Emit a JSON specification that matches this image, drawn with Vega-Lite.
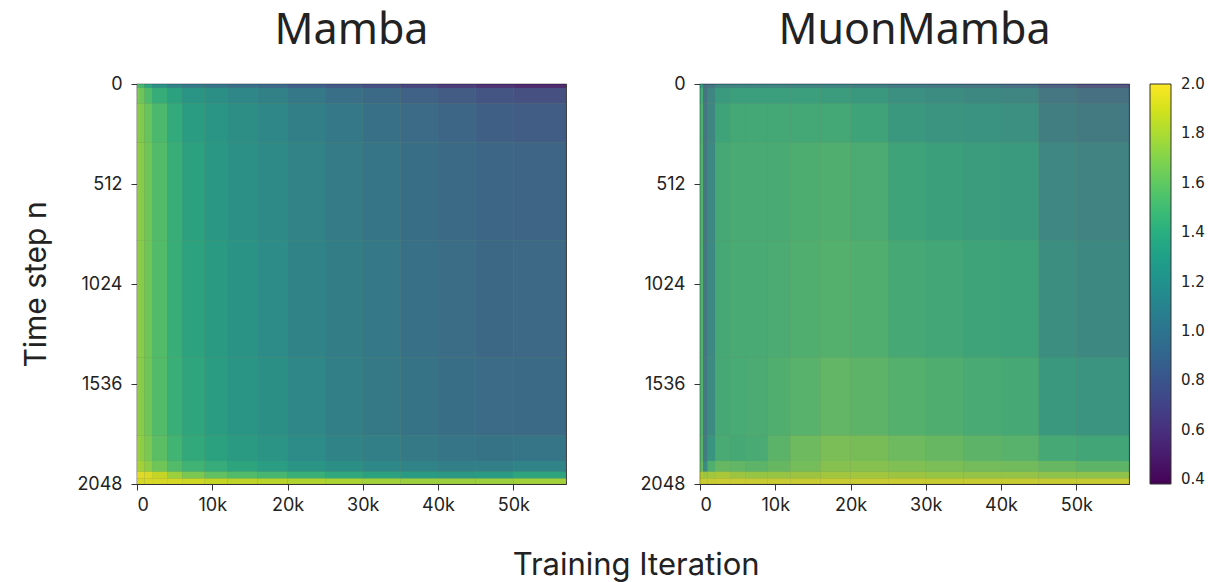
{"$schema":"https://vega.github.io/schema/vega-lite/v6.json","background":"white","padding":{"left":21,"top":9,"right":5,"bottom":2},
"title":{"text":"Training Iteration","orient":"bottom","anchor":"middle","fontSize":31,"font":"Inter","fontWeight":"normal","color":"#222","offset":36,"dx":23},
"config":{"axis":{"grid":false,"domain":false,"tickColor":"#333","tickSize":6,"labelColor":"#222","labelFontSize":18,"labelFont":"Inter","titleFont":"Inter","titleFontWeight":"normal","titleFontSize":30,"titleColor":"#222"},"title":{"font":"Noto Sans","fontWeight":"normal","fontSize":43,"color":"#222","offset":22},"concat":{"spacing":72}},
"datasets":{"mamba":[
{"x":0,"x2":0.4,"y":0,"y2":20,"v":1.55},{"x":0.4,"x2":1,"y":0,"y2":20,"v":1.5},{"x":1,"x2":2,"y":0,"y2":20,"v":1.35},{"x":2,"x2":4,"y":0,"y2":20,"v":1.2},{"x":4,"x2":6,"y":0,"y2":20,"v":1.08},{"x":6,"x2":9,"y":0,"y2":20,"v":1.02},{"x":9,"x2":12,"y":0,"y2":20,"v":0.98},{"x":12,"x2":16,"y":0,"y2":20,"v":0.94},{"x":16,"x2":20,"y":0,"y2":20,"v":0.9},{"x":20,"x2":25,"y":0,"y2":20,"v":0.84},{"x":25,"x2":30,"y":0,"y2":20,"v":0.78},{"x":30,"x2":35,"y":0,"y2":20,"v":0.72},{"x":35,"x2":40,"y":0,"y2":20,"v":0.66},{"x":40,"x2":45,"y":0,"y2":20,"v":0.6},{"x":45,"x2":50,"y":0,"y2":20,"v":0.54},{"x":50,"x2":57,"y":0,"y2":20,"v":0.5},
{"x":0,"x2":0.4,"y":20,"y2":100,"v":1.68},{"x":0.4,"x2":1,"y":20,"y2":100,"v":1.64},{"x":1,"x2":2,"y":20,"y2":100,"v":1.54},{"x":2,"x2":4,"y":20,"y2":100,"v":1.42},{"x":4,"x2":6,"y":20,"y2":100,"v":1.33},{"x":6,"x2":9,"y":20,"y2":100,"v":1.24},{"x":9,"x2":12,"y":20,"y2":100,"v":1.18},{"x":12,"x2":16,"y":20,"y2":100,"v":1.12},{"x":16,"x2":20,"y":20,"y2":100,"v":1.07},{"x":20,"x2":25,"y":20,"y2":100,"v":1.0},{"x":25,"x2":30,"y":20,"y2":100,"v":0.94},{"x":30,"x2":35,"y":20,"y2":100,"v":0.89},{"x":35,"x2":40,"y":20,"y2":100,"v":0.84},{"x":40,"x2":45,"y":20,"y2":100,"v":0.79},{"x":45,"x2":50,"y":20,"y2":100,"v":0.74},{"x":50,"x2":57,"y":20,"y2":100,"v":0.72},
{"x":0,"x2":0.4,"y":100,"y2":300,"v":1.73},{"x":0.4,"x2":1,"y":100,"y2":300,"v":1.7},{"x":1,"x2":2,"y":100,"y2":300,"v":1.62},{"x":2,"x2":4,"y":100,"y2":300,"v":1.52},{"x":4,"x2":6,"y":100,"y2":300,"v":1.4},{"x":6,"x2":9,"y":100,"y2":300,"v":1.29},{"x":9,"x2":12,"y":100,"y2":300,"v":1.23},{"x":12,"x2":16,"y":100,"y2":300,"v":1.17},{"x":16,"x2":20,"y":100,"y2":300,"v":1.12},{"x":20,"x2":25,"y":100,"y2":300,"v":1.06},{"x":25,"x2":30,"y":100,"y2":300,"v":1.0},{"x":30,"x2":35,"y":100,"y2":300,"v":0.95},{"x":35,"x2":40,"y":100,"y2":300,"v":0.9},{"x":40,"x2":45,"y":100,"y2":300,"v":0.86},{"x":45,"x2":50,"y":100,"y2":300,"v":0.82},{"x":50,"x2":57,"y":100,"y2":300,"v":0.8},
{"x":0,"x2":0.4,"y":300,"y2":800,"v":1.75},{"x":0.4,"x2":1,"y":300,"y2":800,"v":1.72},{"x":1,"x2":2,"y":300,"y2":800,"v":1.65},{"x":2,"x2":4,"y":300,"y2":800,"v":1.55},{"x":4,"x2":6,"y":300,"y2":800,"v":1.43},{"x":6,"x2":9,"y":300,"y2":800,"v":1.33},{"x":9,"x2":12,"y":300,"y2":800,"v":1.25},{"x":12,"x2":16,"y":300,"y2":800,"v":1.19},{"x":16,"x2":20,"y":300,"y2":800,"v":1.14},{"x":20,"x2":25,"y":300,"y2":800,"v":1.08},{"x":25,"x2":30,"y":300,"y2":800,"v":1.02},{"x":30,"x2":35,"y":300,"y2":800,"v":0.98},{"x":35,"x2":40,"y":300,"y2":800,"v":0.93},{"x":40,"x2":45,"y":300,"y2":800,"v":0.89},{"x":45,"x2":50,"y":300,"y2":800,"v":0.86},{"x":50,"x2":57,"y":300,"y2":800,"v":0.85},
{"x":0,"x2":0.4,"y":800,"y2":1400,"v":1.75},{"x":0.4,"x2":1,"y":800,"y2":1400,"v":1.72},{"x":1,"x2":2,"y":800,"y2":1400,"v":1.65},{"x":2,"x2":4,"y":800,"y2":1400,"v":1.55},{"x":4,"x2":6,"y":800,"y2":1400,"v":1.43},{"x":6,"x2":9,"y":800,"y2":1400,"v":1.34},{"x":9,"x2":12,"y":800,"y2":1400,"v":1.27},{"x":12,"x2":16,"y":800,"y2":1400,"v":1.21},{"x":16,"x2":20,"y":800,"y2":1400,"v":1.16},{"x":20,"x2":25,"y":800,"y2":1400,"v":1.1},{"x":25,"x2":30,"y":800,"y2":1400,"v":1.04},{"x":30,"x2":35,"y":800,"y2":1400,"v":1.0},{"x":35,"x2":40,"y":800,"y2":1400,"v":0.95},{"x":40,"x2":45,"y":800,"y2":1400,"v":0.91},{"x":45,"x2":50,"y":800,"y2":1400,"v":0.88},{"x":50,"x2":57,"y":800,"y2":1400,"v":0.87},
{"x":0,"x2":0.4,"y":1400,"y2":1800,"v":1.75},{"x":0.4,"x2":1,"y":1400,"y2":1800,"v":1.72},{"x":1,"x2":2,"y":1400,"y2":1800,"v":1.65},{"x":2,"x2":4,"y":1400,"y2":1800,"v":1.55},{"x":4,"x2":6,"y":1400,"y2":1800,"v":1.44},{"x":6,"x2":9,"y":1400,"y2":1800,"v":1.36},{"x":9,"x2":12,"y":1400,"y2":1800,"v":1.29},{"x":12,"x2":16,"y":1400,"y2":1800,"v":1.23},{"x":16,"x2":20,"y":1400,"y2":1800,"v":1.18},{"x":20,"x2":25,"y":1400,"y2":1800,"v":1.12},{"x":25,"x2":30,"y":1400,"y2":1800,"v":1.06},{"x":30,"x2":35,"y":1400,"y2":1800,"v":1.01},{"x":35,"x2":40,"y":1400,"y2":1800,"v":0.97},{"x":40,"x2":45,"y":1400,"y2":1800,"v":0.93},{"x":45,"x2":50,"y":1400,"y2":1800,"v":0.9},{"x":50,"x2":57,"y":1400,"y2":1800,"v":0.89},
{"x":0,"x2":0.4,"y":1800,"y2":1930,"v":1.78},{"x":0.4,"x2":1,"y":1800,"y2":1930,"v":1.74},{"x":1,"x2":2,"y":1800,"y2":1930,"v":1.68},{"x":2,"x2":4,"y":1800,"y2":1930,"v":1.58},{"x":4,"x2":6,"y":1800,"y2":1930,"v":1.48},{"x":6,"x2":9,"y":1800,"y2":1930,"v":1.39},{"x":9,"x2":12,"y":1800,"y2":1930,"v":1.33},{"x":12,"x2":16,"y":1800,"y2":1930,"v":1.27},{"x":16,"x2":20,"y":1800,"y2":1930,"v":1.22},{"x":20,"x2":25,"y":1800,"y2":1930,"v":1.16},{"x":25,"x2":30,"y":1800,"y2":1930,"v":1.1},{"x":30,"x2":35,"y":1800,"y2":1930,"v":1.05},{"x":35,"x2":40,"y":1800,"y2":1930,"v":1.01},{"x":40,"x2":45,"y":1800,"y2":1930,"v":0.98},{"x":45,"x2":50,"y":1800,"y2":1930,"v":0.96},{"x":50,"x2":57,"y":1800,"y2":1930,"v":0.98},
{"x":0,"x2":0.4,"y":1930,"y2":1985,"v":1.82},{"x":0.4,"x2":1,"y":1930,"y2":1985,"v":1.8},{"x":1,"x2":2,"y":1930,"y2":1985,"v":1.74},{"x":2,"x2":4,"y":1930,"y2":1985,"v":1.65},{"x":4,"x2":6,"y":1930,"y2":1985,"v":1.55},{"x":6,"x2":9,"y":1930,"y2":1985,"v":1.47},{"x":9,"x2":12,"y":1930,"y2":1985,"v":1.41},{"x":12,"x2":16,"y":1930,"y2":1985,"v":1.35},{"x":16,"x2":20,"y":1930,"y2":1985,"v":1.3},{"x":20,"x2":25,"y":1930,"y2":1985,"v":1.24},{"x":25,"x2":30,"y":1930,"y2":1985,"v":1.18},{"x":30,"x2":35,"y":1930,"y2":1985,"v":1.13},{"x":35,"x2":40,"y":1930,"y2":1985,"v":1.09},{"x":40,"x2":45,"y":1930,"y2":1985,"v":1.05},{"x":45,"x2":50,"y":1930,"y2":1985,"v":1.05},{"x":50,"x2":57,"y":1930,"y2":1985,"v":1.1},
{"x":0,"x2":0.4,"y":1985,"y2":2020,"v":1.98},{"x":0.4,"x2":1,"y":1985,"y2":2020,"v":1.98},{"x":1,"x2":2,"y":1985,"y2":2020,"v":1.96},{"x":2,"x2":4,"y":1985,"y2":2020,"v":1.9},{"x":4,"x2":6,"y":1985,"y2":2020,"v":1.78},{"x":6,"x2":9,"y":1985,"y2":2020,"v":1.68},{"x":9,"x2":12,"y":1985,"y2":2020,"v":1.6},{"x":12,"x2":16,"y":1985,"y2":2020,"v":1.55},{"x":16,"x2":20,"y":1985,"y2":2020,"v":1.5},{"x":20,"x2":25,"y":1985,"y2":2020,"v":1.44},{"x":25,"x2":30,"y":1985,"y2":2020,"v":1.38},{"x":30,"x2":35,"y":1985,"y2":2020,"v":1.33},{"x":35,"x2":40,"y":1985,"y2":2020,"v":1.28},{"x":40,"x2":45,"y":1985,"y2":2020,"v":1.26},{"x":45,"x2":50,"y":1985,"y2":2020,"v":1.28},{"x":50,"x2":57,"y":1985,"y2":2020,"v":1.35},
{"x":0,"x2":0.4,"y":2020,"y2":2048,"v":1.95},{"x":0.4,"x2":1,"y":2020,"y2":2048,"v":1.95},{"x":1,"x2":2,"y":2020,"y2":2048,"v":1.95},{"x":2,"x2":4,"y":2020,"y2":2048,"v":1.95},{"x":4,"x2":6,"y":2020,"y2":2048,"v":1.94},{"x":6,"x2":9,"y":2020,"y2":2048,"v":1.92},{"x":9,"x2":12,"y":2020,"y2":2048,"v":1.9},{"x":12,"x2":16,"y":2020,"y2":2048,"v":1.88},{"x":16,"x2":20,"y":2020,"y2":2048,"v":1.86},{"x":20,"x2":25,"y":2020,"y2":2048,"v":1.84},{"x":25,"x2":30,"y":2020,"y2":2048,"v":1.82},{"x":30,"x2":35,"y":2020,"y2":2048,"v":1.8},{"x":35,"x2":40,"y":2020,"y2":2048,"v":1.78},{"x":40,"x2":45,"y":2020,"y2":2048,"v":1.78},{"x":45,"x2":50,"y":2020,"y2":2048,"v":1.78},{"x":50,"x2":57,"y":2020,"y2":2048,"v":1.8}
],"muon":[
{"x":0,"x2":0.4,"y":0,"y2":20,"v":1.3},{"x":0.4,"x2":1,"y":0,"y2":20,"v":0.88},{"x":1,"x2":2,"y":0,"y2":20,"v":0.96},{"x":2,"x2":4,"y":0,"y2":20,"v":1.08},{"x":4,"x2":6,"y":0,"y2":20,"v":1.1},{"x":6,"x2":9,"y":0,"y2":20,"v":1.1},{"x":9,"x2":12,"y":0,"y2":20,"v":1.1},{"x":12,"x2":16,"y":0,"y2":20,"v":1.08},{"x":16,"x2":20,"y":0,"y2":20,"v":1.08},{"x":20,"x2":25,"y":0,"y2":20,"v":1.05},{"x":25,"x2":30,"y":0,"y2":20,"v":1.0},{"x":30,"x2":35,"y":0,"y2":20,"v":0.98},{"x":35,"x2":40,"y":0,"y2":20,"v":0.95},{"x":40,"x2":45,"y":0,"y2":20,"v":0.9},{"x":45,"x2":50,"y":0,"y2":20,"v":0.78},{"x":50,"x2":57,"y":0,"y2":20,"v":0.7},
{"x":0,"x2":0.4,"y":20,"y2":100,"v":1.45},{"x":0.4,"x2":1,"y":20,"y2":100,"v":0.93},{"x":1,"x2":2,"y":20,"y2":100,"v":1.08},{"x":2,"x2":4,"y":20,"y2":100,"v":1.3},{"x":4,"x2":6,"y":20,"y2":100,"v":1.33},{"x":6,"x2":9,"y":20,"y2":100,"v":1.33},{"x":9,"x2":12,"y":20,"y2":100,"v":1.33},{"x":12,"x2":16,"y":20,"y2":100,"v":1.33},{"x":16,"x2":20,"y":20,"y2":100,"v":1.32},{"x":20,"x2":25,"y":20,"y2":100,"v":1.28},{"x":25,"x2":30,"y":20,"y2":100,"v":1.2},{"x":30,"x2":35,"y":20,"y2":100,"v":1.16},{"x":35,"x2":40,"y":20,"y2":100,"v":1.13},{"x":40,"x2":45,"y":20,"y2":100,"v":1.1},{"x":45,"x2":50,"y":20,"y2":100,"v":0.96},{"x":50,"x2":57,"y":20,"y2":100,"v":0.9},
{"x":0,"x2":0.4,"y":100,"y2":300,"v":1.5},{"x":0.4,"x2":1,"y":100,"y2":300,"v":0.95},{"x":1,"x2":2,"y":100,"y2":300,"v":1.1},{"x":2,"x2":4,"y":100,"y2":300,"v":1.38},{"x":4,"x2":6,"y":100,"y2":300,"v":1.42},{"x":6,"x2":9,"y":100,"y2":300,"v":1.42},{"x":9,"x2":12,"y":100,"y2":300,"v":1.42},{"x":12,"x2":16,"y":100,"y2":300,"v":1.42},{"x":16,"x2":20,"y":100,"y2":300,"v":1.42},{"x":20,"x2":25,"y":100,"y2":300,"v":1.38},{"x":25,"x2":30,"y":100,"y2":300,"v":1.28},{"x":30,"x2":35,"y":100,"y2":300,"v":1.24},{"x":35,"x2":40,"y":100,"y2":300,"v":1.22},{"x":40,"x2":45,"y":100,"y2":300,"v":1.2},{"x":45,"x2":50,"y":100,"y2":300,"v":1.03},{"x":50,"x2":57,"y":100,"y2":300,"v":0.99},
{"x":0,"x2":0.4,"y":300,"y2":800,"v":1.52},{"x":0.4,"x2":1,"y":300,"y2":800,"v":0.96},{"x":1,"x2":2,"y":300,"y2":800,"v":1.12},{"x":2,"x2":4,"y":300,"y2":800,"v":1.43},{"x":4,"x2":6,"y":300,"y2":800,"v":1.46},{"x":6,"x2":9,"y":300,"y2":800,"v":1.46},{"x":9,"x2":12,"y":300,"y2":800,"v":1.46},{"x":12,"x2":16,"y":300,"y2":800,"v":1.48},{"x":16,"x2":20,"y":300,"y2":800,"v":1.5},{"x":20,"x2":25,"y":300,"y2":800,"v":1.47},{"x":25,"x2":30,"y":300,"y2":800,"v":1.38},{"x":30,"x2":35,"y":300,"y2":800,"v":1.34},{"x":35,"x2":40,"y":300,"y2":800,"v":1.32},{"x":40,"x2":45,"y":300,"y2":800,"v":1.3},{"x":45,"x2":50,"y":300,"y2":800,"v":1.11},{"x":50,"x2":57,"y":300,"y2":800,"v":1.07},
{"x":0,"x2":0.4,"y":800,"y2":1400,"v":1.52},{"x":0.4,"x2":1,"y":800,"y2":1400,"v":0.96},{"x":1,"x2":2,"y":800,"y2":1400,"v":1.12},{"x":2,"x2":4,"y":800,"y2":1400,"v":1.44},{"x":4,"x2":6,"y":800,"y2":1400,"v":1.46},{"x":6,"x2":9,"y":800,"y2":1400,"v":1.46},{"x":9,"x2":12,"y":800,"y2":1400,"v":1.47},{"x":12,"x2":16,"y":800,"y2":1400,"v":1.5},{"x":16,"x2":20,"y":800,"y2":1400,"v":1.52},{"x":20,"x2":25,"y":800,"y2":1400,"v":1.5},{"x":25,"x2":30,"y":800,"y2":1400,"v":1.44},{"x":30,"x2":35,"y":800,"y2":1400,"v":1.41},{"x":35,"x2":40,"y":800,"y2":1400,"v":1.38},{"x":40,"x2":45,"y":800,"y2":1400,"v":1.36},{"x":45,"x2":50,"y":800,"y2":1400,"v":1.17},{"x":50,"x2":57,"y":800,"y2":1400,"v":1.13},
{"x":0,"x2":0.4,"y":1400,"y2":1800,"v":1.52},{"x":0.4,"x2":1,"y":1400,"y2":1800,"v":0.97},{"x":1,"x2":2,"y":1400,"y2":1800,"v":1.14},{"x":2,"x2":4,"y":1400,"y2":1800,"v":1.43},{"x":4,"x2":6,"y":1400,"y2":1800,"v":1.45},{"x":6,"x2":9,"y":1400,"y2":1800,"v":1.47},{"x":9,"x2":12,"y":1400,"y2":1800,"v":1.5},{"x":12,"x2":16,"y":1400,"y2":1800,"v":1.54},{"x":16,"x2":20,"y":1400,"y2":1800,"v":1.58},{"x":20,"x2":25,"y":1400,"y2":1800,"v":1.56},{"x":25,"x2":30,"y":1400,"y2":1800,"v":1.52},{"x":30,"x2":35,"y":1400,"y2":1800,"v":1.49},{"x":35,"x2":40,"y":1400,"y2":1800,"v":1.46},{"x":40,"x2":45,"y":1400,"y2":1800,"v":1.44},{"x":45,"x2":50,"y":1400,"y2":1800,"v":1.28},{"x":50,"x2":57,"y":1400,"y2":1800,"v":1.24},
{"x":0,"x2":0.4,"y":1800,"y2":1930,"v":1.55},{"x":0.4,"x2":1,"y":1800,"y2":1930,"v":1.0},{"x":1,"x2":2,"y":1800,"y2":1930,"v":1.25},{"x":2,"x2":4,"y":1800,"y2":1930,"v":1.46},{"x":4,"x2":6,"y":1800,"y2":1930,"v":1.44},{"x":6,"x2":9,"y":1800,"y2":1930,"v":1.46},{"x":9,"x2":12,"y":1800,"y2":1930,"v":1.55},{"x":12,"x2":16,"y":1800,"y2":1930,"v":1.63},{"x":16,"x2":20,"y":1800,"y2":1930,"v":1.68},{"x":20,"x2":25,"y":1800,"y2":1930,"v":1.67},{"x":25,"x2":30,"y":1800,"y2":1930,"v":1.63},{"x":30,"x2":35,"y":1800,"y2":1930,"v":1.6},{"x":35,"x2":40,"y":1800,"y2":1930,"v":1.56},{"x":40,"x2":45,"y":1800,"y2":1930,"v":1.54},{"x":45,"x2":50,"y":1800,"y2":1930,"v":1.44},{"x":50,"x2":57,"y":1800,"y2":1930,"v":1.4},
{"x":0,"x2":0.4,"y":1930,"y2":1985,"v":1.6},{"x":0.4,"x2":1,"y":1930,"y2":1985,"v":1.15},{"x":1,"x2":2,"y":1930,"y2":1985,"v":1.5},{"x":2,"x2":4,"y":1930,"y2":1985,"v":1.6},{"x":4,"x2":6,"y":1930,"y2":1985,"v":1.58},{"x":6,"x2":9,"y":1930,"y2":1985,"v":1.56},{"x":9,"x2":12,"y":1930,"y2":1985,"v":1.6},{"x":12,"x2":16,"y":1930,"y2":1985,"v":1.66},{"x":16,"x2":20,"y":1930,"y2":1985,"v":1.72},{"x":20,"x2":25,"y":1930,"y2":1985,"v":1.72},{"x":25,"x2":30,"y":1930,"y2":1985,"v":1.7},{"x":30,"x2":35,"y":1930,"y2":1985,"v":1.68},{"x":35,"x2":40,"y":1930,"y2":1985,"v":1.65},{"x":40,"x2":45,"y":1930,"y2":1985,"v":1.64},{"x":45,"x2":50,"y":1930,"y2":1985,"v":1.6},{"x":50,"x2":57,"y":1930,"y2":1985,"v":1.56},
{"x":0,"x2":0.4,"y":1985,"y2":2020,"v":1.85},{"x":0.4,"x2":1,"y":1985,"y2":2020,"v":1.8},{"x":1,"x2":2,"y":1985,"y2":2020,"v":1.82},{"x":2,"x2":4,"y":1985,"y2":2020,"v":1.84},{"x":4,"x2":6,"y":1985,"y2":2020,"v":1.8},{"x":6,"x2":9,"y":1985,"y2":2020,"v":1.78},{"x":9,"x2":12,"y":1985,"y2":2020,"v":1.78},{"x":12,"x2":16,"y":1985,"y2":2020,"v":1.8},{"x":16,"x2":20,"y":1985,"y2":2020,"v":1.82},{"x":20,"x2":25,"y":1985,"y2":2020,"v":1.82},{"x":25,"x2":30,"y":1985,"y2":2020,"v":1.8},{"x":30,"x2":35,"y":1985,"y2":2020,"v":1.78},{"x":35,"x2":40,"y":1985,"y2":2020,"v":1.77},{"x":40,"x2":45,"y":1985,"y2":2020,"v":1.77},{"x":45,"x2":50,"y":1985,"y2":2020,"v":1.75},{"x":50,"x2":57,"y":1985,"y2":2020,"v":1.75},
{"x":0,"x2":0.4,"y":2020,"y2":2048,"v":1.95},{"x":0.4,"x2":1,"y":2020,"y2":2048,"v":1.95},{"x":1,"x2":2,"y":2020,"y2":2048,"v":1.95},{"x":2,"x2":4,"y":2020,"y2":2048,"v":1.96},{"x":4,"x2":6,"y":2020,"y2":2048,"v":1.96},{"x":6,"x2":9,"y":2020,"y2":2048,"v":1.95},{"x":9,"x2":12,"y":2020,"y2":2048,"v":1.95},{"x":12,"x2":16,"y":2020,"y2":2048,"v":1.95},{"x":16,"x2":20,"y":2020,"y2":2048,"v":1.95},{"x":20,"x2":25,"y":2020,"y2":2048,"v":1.95},{"x":25,"x2":30,"y":2020,"y2":2048,"v":1.95},{"x":30,"x2":35,"y":2020,"y2":2048,"v":1.94},{"x":35,"x2":40,"y":2020,"y2":2048,"v":1.94},{"x":40,"x2":45,"y":2020,"y2":2048,"v":1.94},{"x":45,"x2":50,"y":2020,"y2":2048,"v":1.94},{"x":50,"x2":57,"y":2020,"y2":2048,"v":1.94}
]},
"hconcat":[
{"title":"Mamba","width":429,"height":400,"view":{"stroke":"#333","strokeWidth":1.2,"fill":"#6f8a5f"},"data":{"name":"mamba"},"mark":{"type":"rect","opacity":0.85},
"encoding":{"x":{"field":"x","type":"quantitative","title":null,"scale":{"domain":[0,57],"nice":false,"zero":false},"axis":{"values":[0,10,20,30,40,50],"labelPadding":6,"labelExpr":"datum.value==0?'0':datum.value+'k'"}},"x2":{"field":"x2"},
"y":{"field":"y","type":"quantitative","title":"Time step n","scale":{"domain":[0,2048],"reverse":true,"nice":false,"zero":false},"axis":{"values":[0,512,1024,1536,2048],"format":"d","labelPadding":9,"titlePadding":25}},"y2":{"field":"y2"},
"color":{"field":"v","type":"quantitative","scale":{"scheme":"viridis","domain":[0.38,2]},"legend":{"title":null,"values":[0.4,0.6,0.8,1.0,1.2,1.4,1.6,1.8,2.0],"format":".1f","gradientLength":400,"gradientThickness":21,"gradientStrokeColor":"#333","gradientStrokeWidth":1,"gradientOpacity":1,"labelFontSize":15,"labelColor":"#222","labelFont":"DejaVu Sans","labelOffset":10,"offset":20,"padding":0,"encode":{"gradient":{"update":{"opacity":{"value":1}}},"labels":{"update":{"baseline":{"value":"middle"}}}}}}}},
{"title":"MuonMamba","width":429,"height":400,"view":{"stroke":"#333","strokeWidth":1.2,"fill":"#788c64"},"data":{"name":"muon"},"mark":{"type":"rect","opacity":0.7},
"encoding":{"x":{"field":"x","type":"quantitative","title":null,"scale":{"domain":[0,57],"nice":false,"zero":false},"axis":{"values":[0,10,20,30,40,50],"labelPadding":6,"labelExpr":"datum.value==0?'0':datum.value+'k'"}},"x2":{"field":"x2"},
"y":{"field":"y","type":"quantitative","title":null,"scale":{"domain":[0,2048],"reverse":true,"nice":false,"zero":false},"axis":{"values":[0,512,1024,1536,2048],"format":"d","labelPadding":9}},"y2":{"field":"y2"},
"color":{"field":"v","type":"quantitative","scale":{"scheme":"viridis","domain":[0.38,2]}}}}
]}
